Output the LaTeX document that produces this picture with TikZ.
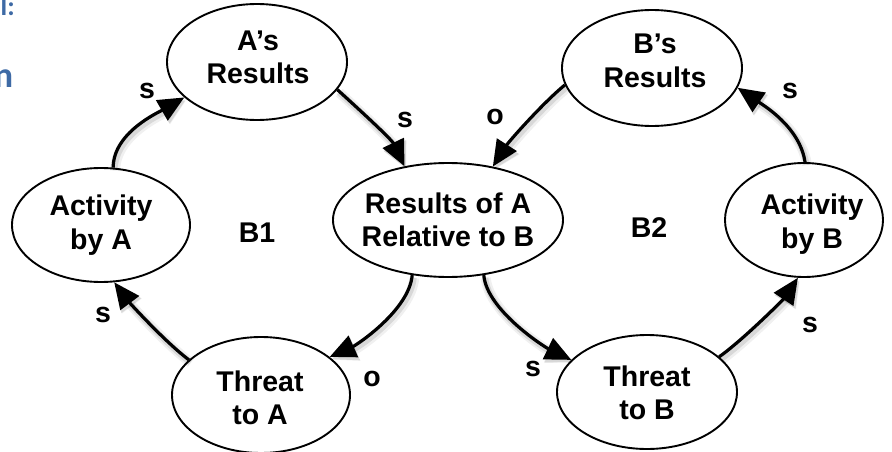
\documentclass[tikz,border=0pt]{standalone}
\usepackage{fontspec}
\setmainfont{Liberation Sans}
\newfontfamily\headfont{Carlito}
\usetikzlibrary{arrows.meta,shapes.geometric}
\definecolor{headblue}{RGB}{62,106,165}

\begin{document}
\begin{tikzpicture}[x=1pt,y=-1pt,
  state/.style={draw, line width=1.9pt, ellipse, inner sep=0pt},
  statetext/.style={align=center, inner sep=0pt,
    font=\fontsize{28.5}{33.5}\selectfont\bfseries},
  tag/.style={inner sep=0pt, font=\fontsize{28.5}{33.5}\selectfont\bfseries},
  link/.style={line width=3.2pt,
    -{Triangle[length=26pt,width=23pt]},
    preaction={draw, black, opacity=.06, line width=10pt,
      transform canvas={shift={(2pt,-3pt)}}},
    preaction={draw, black, opacity=.10, line width=6pt,
      transform canvas={shift={(1.5pt,-2.5pt)}}}},
  heading/.style={anchor=base east, inner sep=0pt, text=headblue}]

  \useasboundingbox (0,0) rectangle (892,452);

  % cut-off heading text at the left edge
  \node[heading, font=\headfont\bfseries\fontsize{27}{27}\selectfont] (hd1) at (15,15.5) {l:};
  \node[heading, font=\headfont\bfseries\fontsize{36}{36}\selectfont] (hd2) at (13.5,88) {n};

  % ellipses
  \node[state, minimum width=180pt, minimum height=116pt] (aRes) at (257,62) {};
  \node[state, minimum width=230pt, minimum height=114pt] (rel)  at (448,220) {};
  \node[state, minimum width=178pt, minimum height=114pt] (actA) at (101,225) {};
  \node[state, minimum width=178pt, minimum height=116pt] (thrA) at (261,395) {};
  \node[state, minimum width=180pt, minimum height=116pt] (bRes) at (652,68) {};
  \node[state, minimum width=158pt, minimum height=114pt] (actB) at (804,220) {};
  \node[state, minimum width=180pt, minimum height=114pt] (thrB) at (647,392) {};

  % texts inside the ellipses
  \node[statetext] (aResT) at (258,57.5) {A’s\\Results};
  \node[statetext] (relT)  at (448,220) {Results of A\\Relative to B};
  \node[statetext] (actAT) at (101,225) {Activity\\by A};
  \node[statetext] (thrAT) at (260,398) {Threat\\to A};
  \node[statetext] (bResT) at (655,61) {B’s\\Results};
  \node[statetext] (actBT) at (812,224) {Activity\\by B};
  \node[statetext] (thrBT) at (647,393) {Threat\\to B};

  % loop names
  \node[tag] (b1) at (257,233) {B1};
  \node[tag] (b2) at (649,228) {B2};

  % links of loop B1
  \draw[link] (actA.78) .. controls +(0,-35) and +(-26,15) .. (aRes.206);
  \draw[link] (aRes.341) .. controls +(22,20) and +(-13,-27) .. (rel.129);
  \draw[link] (rel.237) .. controls +(-3,35) and +(27,-12) .. (thrA.29);
  \draw[link] (thrA.154) .. controls +(-24,-18) and +(15,20) .. (actA.283);

  % links of loop B2
  \draw[link] (bRes.191) .. controls +(-22,18) and +(16,-25) .. (rel.50);
  \draw[link] (rel.303) .. controls +(3,35) and +(-27,-13) .. (thrB.157);
  \draw[link] (thrB.26) .. controls +(24,-17) and +(-14,21) .. (actB.264);
  \draw[link] (actB.89) .. controls +(-5,-35) and +(25,17) .. (bRes.347);

  % link polarities
  \node[tag] (p1) at (147,91)  {s};
  \node[tag] (p2) at (405,120) {s};
  \node[tag] (p3) at (495,117) {o};
  \node[tag] (p4) at (790,91)  {s};
  \node[tag] (p5) at (103,315) {s};
  \node[tag] (p6) at (372,379) {o};
  \node[tag] (p7) at (533,369) {s};
  \node[tag] (p8) at (810,325) {s};
\end{tikzpicture}
\end{document}
